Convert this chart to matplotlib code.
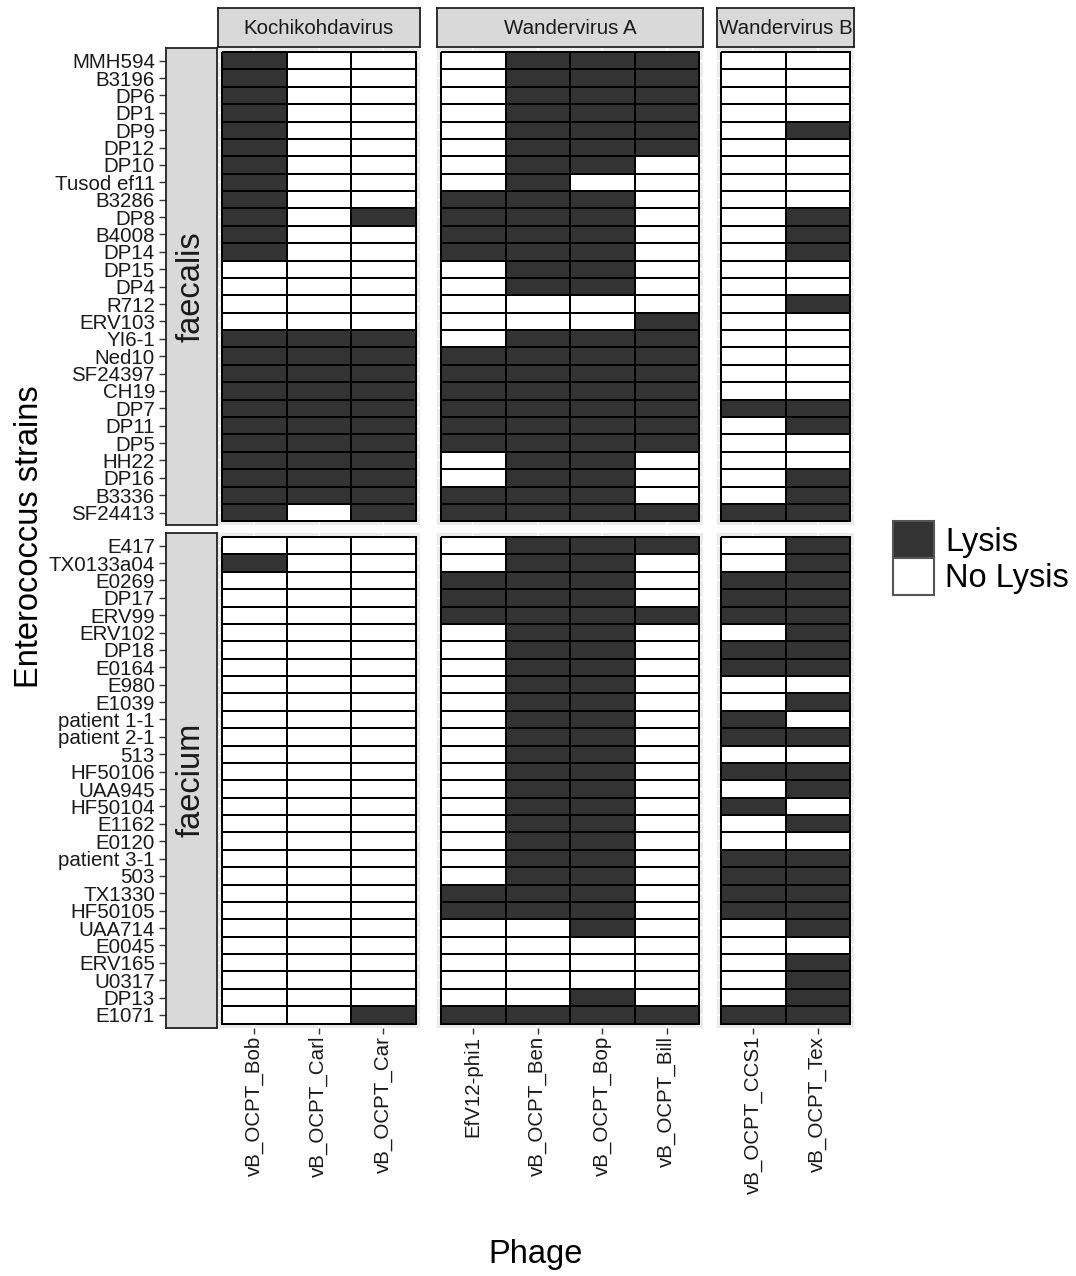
import numpy as np
import matplotlib
matplotlib.use("Agg")
import matplotlib.pyplot as plt
from matplotlib.colors import ListedColormap
from matplotlib.patches import Patch

plt.rcParams['font.family'] = ['Liberation Sans', 'DejaVu Sans']

# strains (rows) per host species
faecalis_strains = ["MMH594", "B3196", "DP6", "DP1", "DP9", "DP12", "DP10", "Tusod ef11",
                    "B3286", "DP8", "B4008", "DP14", "DP15", "DP4", "R712", "ERV103",
                    "YI6-1", "Ned10", "SF24397", "CH19", "DP7", "DP11", "DP5", "HH22",
                    "DP16", "B3336", "SF24413"]
faecium_strains = ["E417", "TX0133a04", "E0269", "DP17", "ERV99", "ERV102", "DP18", "E0164",
                   "E980", "E1039", "patient 1-1", "patient 2-1", "513", "HF50106", "UAA945",
                   "HF50104", "E1162", "E0120", "patient 3-1", "503", "TX1330", "HF50105",
                   "UAA714", "E0045", "ERV165", "U0317", "DP13", "E1071"]
hosts = ["faecalis", "faecium"]

# phages (columns) per genus
genera = ["Kochikohdavirus", "Wandervirus A", "Wandervirus B"]
kochikohda_phages = ["vB_OCPT_Bob", "vB_OCPT_Carl", "vB_OCPT_Car"]
wander_a_phages = ["EfV12-phi1", "vB_OCPT_Ben", "vB_OCPT_Bop", "vB_OCPT_Bill"]
wander_b_phages = ["vB_OCPT_CCS1", "vB_OCPT_Tex"]

# 1 = lysis, 0 = no lysis; one row per strain, columns in phage order
faecalis_kochikohda = [
    [1, 0, 0], [1, 0, 0], [1, 0, 0], [1, 0, 0], [1, 0, 0], [1, 0, 0], [1, 0, 0],
    [1, 0, 0], [1, 0, 0], [1, 0, 1], [1, 0, 0], [1, 0, 0], [0, 0, 0], [0, 0, 0],
    [0, 0, 0], [0, 0, 0], [1, 1, 1], [1, 1, 1], [1, 1, 1], [1, 1, 1], [1, 1, 1],
    [1, 1, 1], [1, 1, 1], [1, 1, 1], [1, 1, 1], [1, 1, 1], [1, 0, 1]]
faecalis_wander_a = [
    [0, 1, 1, 1], [0, 1, 1, 1], [0, 1, 1, 1], [0, 1, 1, 1], [0, 1, 1, 1], [0, 1, 1, 1],
    [0, 1, 1, 0], [0, 1, 0, 0], [1, 1, 1, 0], [1, 1, 1, 0], [1, 1, 1, 0], [1, 1, 1, 0],
    [0, 1, 1, 0], [0, 1, 1, 0], [0, 0, 0, 0], [0, 0, 0, 1], [0, 1, 1, 1], [1, 1, 1, 1],
    [1, 1, 1, 1], [1, 1, 1, 1], [1, 1, 1, 1], [1, 1, 1, 1], [1, 1, 1, 1], [0, 1, 1, 0],
    [0, 1, 1, 0], [1, 1, 1, 0], [1, 1, 1, 1]]
faecalis_wander_b = [
    [0, 0], [0, 0], [0, 0], [0, 0], [0, 1], [0, 0], [0, 0], [0, 0], [0, 0], [0, 1],
    [0, 1], [0, 1], [0, 0], [0, 0], [0, 1], [0, 0], [0, 0], [0, 0], [0, 0], [0, 0],
    [1, 1], [0, 1], [0, 0], [0, 0], [0, 1], [0, 1], [1, 1]]

faecium_kochikohda = [
    [0, 0, 0], [1, 0, 0], [0, 0, 0], [0, 0, 0], [0, 0, 0], [0, 0, 0], [0, 0, 0],
    [0, 0, 0], [0, 0, 0], [0, 0, 0], [0, 0, 0], [0, 0, 0], [0, 0, 0], [0, 0, 0],
    [0, 0, 0], [0, 0, 0], [0, 0, 0], [0, 0, 0], [0, 0, 0], [0, 0, 0], [0, 0, 0],
    [0, 0, 0], [0, 0, 0], [0, 0, 0], [0, 0, 0], [0, 0, 0], [0, 0, 0], [0, 0, 1]]
faecium_wander_a = [
    [0, 1, 1, 1], [0, 1, 1, 0], [1, 1, 1, 0], [1, 1, 1, 0], [1, 1, 1, 1], [0, 1, 1, 0],
    [0, 1, 1, 0], [0, 1, 1, 0], [0, 1, 1, 0], [0, 1, 1, 0], [0, 1, 1, 0], [0, 1, 1, 0],
    [0, 1, 1, 0], [0, 1, 1, 0], [0, 1, 1, 0], [0, 1, 1, 0], [0, 1, 1, 0], [0, 1, 1, 0],
    [0, 1, 1, 0], [0, 1, 1, 0], [1, 1, 1, 0], [1, 1, 1, 0], [0, 0, 1, 0], [0, 0, 0, 0],
    [0, 0, 0, 0], [0, 0, 0, 0], [0, 0, 1, 0], [1, 1, 1, 1]]
faecium_wander_b = [
    [0, 1], [0, 1], [1, 1], [1, 1], [1, 1], [0, 1], [1, 1], [1, 1], [0, 0], [0, 1],
    [1, 0], [1, 1], [0, 0], [1, 1], [0, 1], [1, 0], [0, 1], [0, 0], [1, 1], [1, 1],
    [1, 1], [1, 1], [0, 1], [0, 0], [0, 1], [0, 1], [0, 1], [1, 1]]

phage_groups = [kochikohda_phages, wander_a_phages, wander_b_phages]
strain_groups = [faecalis_strains, faecium_strains]
lysis = [[faecalis_kochikohda, faecalis_wander_a, faecalis_wander_b],
         [faecium_kochikohda, faecium_wander_a, faecium_wander_b]]

W, H = 1076, 1276
fig = plt.figure(figsize=(W / 100, H / 100), dpi=100)


def px_axes(x, y, w, h):
    # axes placed in pixel units measured from the top-left corner
    return fig.add_axes([x / W, 1 - (y + h) / H, w / W, h / H])


cw, rh, pad = 64.5, 17.38, 4
col_x = [218, 437, 717]
row_y = [48, 533]
tile_cmap = ListedColormap(["white", "#333333"])
text_col = "#1A1A1A"
tick_size = 14.8

for i, strains in enumerate(strain_groups):
    ns = len(strains)
    ph = ns * rh + 2 * pad
    ylim = (ns - 0.5 + pad / rh, -0.5 - pad / rh)
    for j, phages in enumerate(phage_groups):
        nphg = len(phages)
        pw = nphg * cw + 2 * pad
        ax = px_axes(col_x[j], row_y[i], pw, ph)
        ax.set_facecolor("#EBEBEB")
        ax.pcolormesh(np.arange(nphg + 1) - 0.5, np.arange(ns + 1) - 0.5,
                      np.array(lysis[i][j]), cmap=tile_cmap, vmin=0, vmax=1,
                      edgecolors="black", linewidth=1.2, zorder=2)
        ax.set_xlim(-0.5 - pad / cw, nphg - 0.5 + pad / cw)
        ax.set_ylim(*ylim)
        ax.set_xticks(range(nphg))
        ax.set_yticks(range(ns))
        ax.grid(True, color="white", linewidth=1.1, zorder=0)
        ax.set_axisbelow(True)
        for s in ax.spines.values():
            s.set_visible(False)
        ax.tick_params(axis="y", length=0, labelleft=False)
        if i == len(strain_groups) - 1:
            ax.set_xticklabels(phages, rotation=90, ha="center", va="top",
                               fontsize=tick_size, color=text_col)
            ax.tick_params(axis="x", length=4, width=1, color="#333333", pad=2)
        else:
            ax.tick_params(axis="x", length=0, labelbottom=False)

        # genus strip on top
        if i == 0:
            sax = px_axes(col_x[j], 8, pw, 39)
            sax.set_facecolor("#D9D9D9")
            sax.set_xticks([])
            sax.set_yticks([])
            for s in sax.spines.values():
                s.set_linewidth(1.3)
                s.set_color("#222222")
            sax.text(0.5, 0.47, genera[j], ha="center", va="center",
                     fontsize=14.8, color=text_col, transform=sax.transAxes)

    # host strip on the left, carrying the strain labels
    lax = px_axes(166, row_y[i], 51, ph)
    lax.set_facecolor("#D9D9D9")
    lax.set_ylim(*ylim)
    lax.set_xticks([])
    lax.set_yticks(range(ns))
    lax.set_yticklabels(strains, fontsize=tick_size, color=text_col)
    lax.tick_params(axis="y", length=5, width=1, color="#333333", pad=3)
    for s in lax.spines.values():
        s.set_linewidth(1.3)
        s.set_color("#222222")
    lax.text(0.5, 0.5, hosts[i], rotation=90, ha="center", va="center",
             fontsize=23.5, color=text_col, transform=lax.transAxes)

fig.text(536 / W, 1 - 1255 / H, "Phage", ha="center", va="center", fontsize=23.5)
fig.text(30 / W, 1 - 537 / H, "Enterococcus strains", ha="center", va="center",
         rotation=90, fontsize=23.5)

handles = [Patch(facecolor="#333333", edgecolor="#555555", linewidth=1.5),
           Patch(facecolor="white", edgecolor="#555555", linewidth=1.5)]
fig.legend(handles, ["Lysis", "No Lysis"], loc="center left",
           bbox_to_anchor=(893 / W, 1 - 558 / H), frameon=False, fontsize=23.5,
           handlelength=1.25, handleheight=1.35, labelspacing=0.0,
           handletextpad=0.35, borderpad=0, borderaxespad=0)

fig.savefig("out.png", dpi=100)
